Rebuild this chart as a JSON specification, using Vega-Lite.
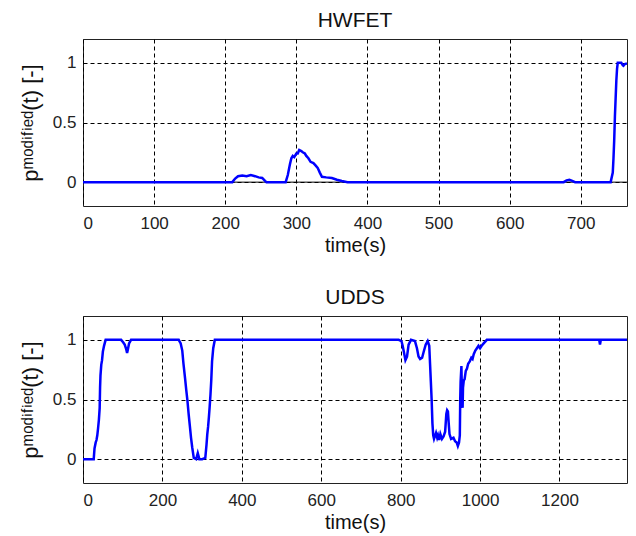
{
  "$schema": "https://vega.github.io/schema/vega-lite/v6.json",
  "background": "white",
  "padding": {"left": 18, "top": 9, "right": 6, "bottom": 2},
  "spacing": 30,
  "config": {
    "font": "Liberation Sans",
    "view": {"stroke": "#222", "strokeWidth": 1},
    "axis": {
      "domain": false,
      "grid": true,
      "gridColor": "#000",
      "gridOpacity": 1,
      "gridWidth": 1,
      "gridDash": [4, 3],
      "ticks": false,
      "labelFont": "Liberation Sans",
      "labelFontSize": 17,
      "labelColor": "#222",
      "titleFont": "Liberation Sans",
      "titleFontWeight": "normal",
      "titleColor": "#111"
    },
    "title": {"font": "Liberation Sans", "fontSize": 21, "fontWeight": "normal", "color": "#111", "offset": 8}
  },
  "datasets": {
    "hwfet": [
      {"t":0,"p":0},{"t":210,"p":0},{"t":214,"p":0.03},{"t":218,"p":0.05},{"t":224,"p":0.055},{"t":230,"p":0.05},{"t":236,"p":0.06},{"t":242,"p":0.05},{"t":247,"p":0.04},{"t":252,"p":0.035},{"t":256,"p":0.01},{"t":258,"p":0},
      {"t":285,"p":0},{"t":288,"p":0.06},{"t":291,"p":0.15},{"t":293,"p":0.2},{"t":295,"p":0.22},{"t":297,"p":0.21},{"t":300,"p":0.24},{"t":302,"p":0.24},{"t":304,"p":0.27},{"t":307,"p":0.26},{"t":309,"p":0.25},{"t":312,"p":0.24},{"t":314,"p":0.22},{"t":317,"p":0.2},{"t":320,"p":0.17},{"t":324,"p":0.16},{"t":327,"p":0.14},{"t":330,"p":0.12},{"t":333,"p":0.08},{"t":336,"p":0.045},{"t":342,"p":0.04},{"t":350,"p":0.035},{"t":357,"p":0.02},{"t":364,"p":0.01},{"t":372,"p":0},
      {"t":676,"p":0},{"t":680,"p":0.015},{"t":684,"p":0.02},{"t":688,"p":0.01},{"t":692,"p":0},
      {"t":742,"p":0},{"t":745,"p":0.08},{"t":746,"p":0.2},{"t":747,"p":0.35},{"t":748,"p":0.55},{"t":749,"p":0.7},{"t":750,"p":0.85},{"t":751,"p":0.95},{"t":752,"p":1.0},{"t":757,"p":1.0},{"t":759,"p":0.98},{"t":760,"p":0.975},{"t":762,"p":0.99},{"t":765,"p":0.995}
    ],
    "udds": [
      {"t":0,"p":0},{"t":27,"p":0},{"t":29,"p":0.09},{"t":32,"p":0.14},{"t":34,"p":0.16},{"t":36,"p":0.2},{"t":38,"p":0.26},{"t":40,"p":0.33},{"t":42,"p":0.43},{"t":43,"p":0.6},{"t":44,"p":0.7},{"t":46,"p":0.79},{"t":48,"p":0.83},{"t":50,"p":0.9},{"t":53,"p":0.95},{"t":57,"p":1.0},
      {"t":96,"p":1.0},{"t":101,"p":0.98},{"t":105,"p":0.96},{"t":109,"p":0.92},{"t":111,"p":0.89},{"t":113,"p":0.92},{"t":116,"p":0.97},{"t":121,"p":1.0},
      {"t":241,"p":1.0},{"t":246,"p":0.97},{"t":250,"p":0.91},{"t":253,"p":0.8},{"t":257,"p":0.68},{"t":260,"p":0.58},{"t":263,"p":0.49},{"t":266,"p":0.38},{"t":269,"p":0.28},{"t":272,"p":0.18},{"t":275,"p":0.1},{"t":279,"p":0.01},{"t":285,"p":0},{"t":289,"p":0.05},{"t":293,"p":0},{"t":300,"p":0},{"t":308,"p":0.01},{"t":311,"p":0.12},{"t":313,"p":0.21},{"t":315,"p":0.27},{"t":317,"p":0.35},{"t":319,"p":0.44},{"t":321,"p":0.54},{"t":323,"p":0.66},{"t":325,"p":0.82},{"t":328,"p":0.93},{"t":332,"p":1.0},
      {"t":795,"p":1.0},{"t":802,"p":0.99},{"t":805,"p":0.95},{"t":808,"p":0.9},{"t":812,"p":0.83},{"t":816,"p":0.86},{"t":820,"p":0.96},{"t":826,"p":1.0},{"t":836,"p":0.99},{"t":841,"p":0.93},{"t":845,"p":0.86},{"t":849,"p":0.84},{"t":854,"p":0.85},{"t":858,"p":0.9},{"t":863,"p":0.96},{"t":868,"p":0.99},{"t":872,"p":0.95},{"t":874,"p":0.8},{"t":876,"p":0.65},{"t":878,"p":0.5},{"t":880,"p":0.3},{"t":882,"p":0.2},{"t":884,"p":0.17},{"t":887,"p":0.2},{"t":889,"p":0.22},{"t":892,"p":0.18},{"t":894,"p":0.2},{"t":897,"p":0.16},{"t":900,"p":0.21},{"t":904,"p":0.17},{"t":908,"p":0.19},{"t":912,"p":0.23},{"t":915,"p":0.38},{"t":917,"p":0.41},{"t":919,"p":0.4},{"t":921,"p":0.3},{"t":923,"p":0.21},{"t":927,"p":0.17},{"t":933,"p":0.18},{"t":937,"p":0.15},{"t":941,"p":0.14},{"t":944,"p":0.11},{"t":947,"p":0.14},{"t":949,"p":0.2},{"t":950,"p":0.5},{"t":951,"p":0.65},{"t":953,"p":0.78},{"t":954,"p":0.6},{"t":955,"p":0.45},{"t":956,"p":0.43},{"t":957,"p":0.6},{"t":959,"p":0.66},{"t":961,"p":0.67},{"t":964,"p":0.74},{"t":967,"p":0.76},{"t":970,"p":0.8},{"t":974,"p":0.82},{"t":978,"p":0.85},{"t":981,"p":0.84},{"t":984,"p":0.88},{"t":988,"p":0.91},{"t":992,"p":0.93},{"t":996,"p":0.95},{"t":1000,"p":0.93},{"t":1004,"p":0.95},{"t":1009,"p":0.97},{"t":1017,"p":1.0},
      {"t":1300,"p":1.0},{"t":1302,"p":0.96},{"t":1304,"p":1.0},{"t":1370,"p":1.0}
    ],
    "zero": [{"y": 0}]
  },
  "vconcat": [
    {
      "title": "HWFET",
      "width": 544,
      "height": 167,
      "layer": [
        {
          "data": {"name": "zero"},
          "mark": {"type": "rule", "color": "#000", "strokeWidth": 1},
          "encoding": {"y": {"field": "y", "type": "quantitative", "scale": {"domain": [-0.2, 1.2]}}}
        },
        {
          "data": {"name": "hwfet"},
          "mark": {"type": "line", "color": "#0000ff", "strokeWidth": 2.5, "clip": true},
          "encoding": {
            "x": {"field": "t", "type": "quantitative", "scale": {"domain": [0, 765], "nice": false, "zero": false},
                  "axis": {"title": "time(s)", "values": [0,100,200,300,400,500,600,700], "format": "d", "labelPadding": 9, "titleFontSize": 20, "titlePadding": 4}},
            "y": {"field": "p", "type": "quantitative", "scale": {"domain": [-0.2, 1.2], "nice": false, "zero": false},
                  "axis": {"title": "pᵐᵒᵈⁱᶠⁱᵉᵈ(t) [-]", "values": [0, 0.5, 1], "format": "~g", "labelPadding": 7, "titlePadding": 10, "titleFontSize": 22}}
          }
        }
      ]
    },
    {
      "title": "UDDS",
      "width": 544,
      "height": 167,
      "data": {"name": "udds"},
      "mark": {"type": "line", "color": "#0000ff", "strokeWidth": 2.5, "clip": true},
      "encoding": {
        "x": {"field": "t", "type": "quantitative", "scale": {"domain": [0, 1370], "nice": false, "zero": false},
              "axis": {"title": "time(s)", "values": [0,200,400,600,800,1000,1200], "format": "d", "labelPadding": 9, "titleFontSize": 20, "titlePadding": 4}},
        "y": {"field": "p", "type": "quantitative", "scale": {"domain": [-0.2, 1.2], "nice": false, "zero": false},
              "axis": {"title": "pᵐᵒᵈⁱᶠⁱᵉᵈ(t) [-]", "values": [0, 0.5, 1], "format": "~g", "labelPadding": 7, "titlePadding": 10, "titleFontSize": 22}}
      }
    }
  ]
}
